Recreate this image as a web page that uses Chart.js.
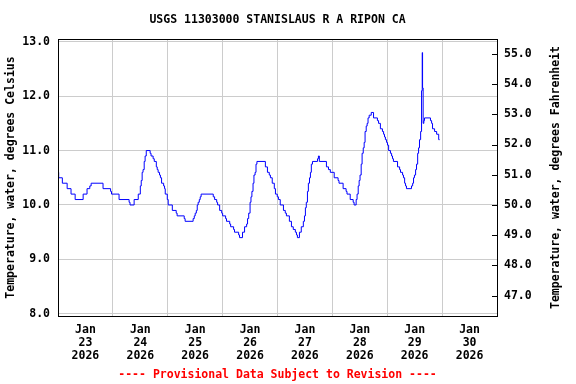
<!DOCTYPE html>
<html lang="en">
<head>
    <meta charset="UTF-8">
    <title>USGS 11303000 STANISLAUS R A RIPON CA</title>
    <script src="https://cdn.jsdelivr.net/npm/chart.js"></script>
    <style>
        html, body { margin: 0; padding: 0; background: #fff; }
        #chart { display: block; }
    </style>
</head>
<body>
    <canvas id="chart" width="576" height="384"></canvas>

    <script>
        // hours since Jan 23 2026 00:00, value starts at that time
        const hours = [
            0, 0.3, 1.9, 4.0, 5.7, 7.5, 11.0, 12.7, 13.9, 14.5, 19.7, 23.0, 23.4, 26.7, 31.1, 31.5, 33.3, 35.1,
            36.0, 36.4, 36.8, 37.2, 37.7, 38.1, 38.6, 40.3, 40.7, 41.6, 42.1, 43.0, 43.4, 43.8, 44.4, 44.8,
            45.3, 46.2, 46.6, 46.9, 47.8, 48.2, 50.0, 51.7, 52.1, 55.2, 55.6, 59.1, 59.6, 60.0, 60.5, 60.9,
            61.3, 61.8, 62.2, 62.6, 67.9, 68.5, 69.4, 69.8, 70.7, 71.6, 72.0, 73.3, 73.7, 75.1, 75.5, 76.8,
            77.2, 79.0, 79.4, 80.7, 81.6, 82.5, 82.9, 83.4, 84.0, 84.4, 84.8, 85.3, 85.7, 86.2, 86.6, 87.0,
            90.7, 91.6, 92.4, 92.9, 93.7, 94.6, 95.1, 95.9, 96.4, 97.2, 98.6, 99.4, 99.9, 101.2, 102.1, 102.9,
            103.8, 104.3, 104.7, 105.6, 106.4, 107.3, 107.8, 108.2, 108.6, 109.1, 109.5, 110.0, 110.4, 110.8,
            111.3, 113.5, 113.9, 114.3, 117.4, 118.3, 119.1, 120.8, 122.5, 122.9, 124.7, 126.0, 126.4, 127.8,
            129.1, 129.5, 130.4, 130.8, 131.3, 131.7, 132.1, 132.6, 133.0, 133.5, 133.9, 134.3, 134.8, 135.2,
            135.6, 136.1, 137.0, 138.0, 139.7, 140.2, 141.0, 141.9, 142.4, 142.8, 143.2, 143.7, 144.1, 144.6,
            145.4, 145.9, 146.3, 146.7, 148.5, 149.4, 149.8, 150.7, 151.1, 151.6, 152.0, 152.4, 154.6, 155.1,
            155.5, 155.9, 156.4, 156.8, 157.3, 157.7, 158.1, 158.6, 159.0, 159.3, 159.45, 159.7, 160.0, 160.3,
            162.9, 163.4, 163.8, 164.7, 165.6, 166.5, 166.9
        ];
        const tempC = [
            10.6, 10.5, 10.4, 10.3, 10.2, 10.1, 10.2, 10.3, 10.35, 10.4, 10.3, 10.25, 10.2, 10.1, 10.05, 10.0, 10.1, 10.2,
            10.35, 10.45, 10.6, 10.65, 10.8, 10.9, 11.0, 10.95, 10.9, 10.85, 10.8, 10.7, 10.65, 10.6, 10.55, 10.5,
            10.4, 10.35, 10.3, 10.2, 10.1, 10.0, 9.9, 9.85, 9.8, 9.75, 9.7, 9.75, 9.8, 9.85, 9.9, 10.0,
            10.05, 10.1, 10.15, 10.2, 10.15, 10.1, 10.05, 10.0, 9.9, 9.85, 9.8, 9.75, 9.7, 9.65, 9.6, 9.55,
            9.5, 9.45, 9.4, 9.5, 9.6, 9.65, 9.75, 9.85, 10.05, 10.15, 10.25, 10.4, 10.55, 10.6, 10.75, 10.8,
            10.7, 10.6, 10.55, 10.5, 10.4, 10.3, 10.2, 10.15, 10.1, 10.0, 9.9, 9.85, 9.8, 9.7, 9.6, 9.55,
            9.5, 9.45, 9.4, 9.5, 9.6, 9.7, 9.8, 9.95, 10.05, 10.25, 10.4, 10.5, 10.6, 10.75,
            10.8, 10.85, 10.9, 10.8, 10.7, 10.65, 10.6, 10.5, 10.45, 10.4, 10.3, 10.25, 10.2, 10.1,
            10.05, 10.0, 10.1, 10.2, 10.35, 10.45, 10.55, 10.75, 10.95, 11.05, 11.15, 11.35, 11.45, 11.5,
            11.6, 11.65, 11.7, 11.6, 11.55, 11.5, 11.4, 11.35, 11.3, 11.25, 11.2, 11.15, 11.1, 11.0,
            10.95, 10.9, 10.85, 10.8, 10.7, 10.65, 10.6, 10.55, 10.5, 10.4, 10.35, 10.3, 10.35, 10.4,
            10.5, 10.55, 10.65, 10.75, 10.95, 11.05, 11.2, 11.35, 12.1, 12.8, 12.15, 11.5, 11.55, 11.6,
            11.55, 11.5, 11.4, 11.35, 11.3, 11.2, 11.2
        ];
        const dayLabels = ['23', '24', '25', '26', '27', '28', '29', '30'];
        const cRange = [7.96, 13.05];

        const titleText = 'USGS 11303000 STANISLAUS R A RIPON CA';
        const footText = '---- Provisional Data Subject to Revision ----';
        const rightTitle = 'Temperature, water, degrees Fahrenheit';

        const monoBold = { family: 'DejaVu Sans Mono', size: 11.5, weight: 'bold', lineHeight: 1.1 };
        const fontStr = 'bold 11.5px "DejaVu Sans Mono"';
        Chart.defaults.color = '#000';

        // frame, inward ticks on the Fahrenheit side, and the texts centred on the plot
        const framePlugin = {
            id: 'frame',
            afterDraw(chart) {
                const { ctx, chartArea: a } = chart;
                const yF = chart.scales.yF;
                const cx = (a.left + a.right) / 2;
                const cy = (a.top + a.bottom) / 2;
                ctx.save();
                ctx.strokeStyle = '#000';
                ctx.lineWidth = 1;
                ctx.beginPath();
                yF.ticks.forEach(t => {
                    const py = Math.round(yF.getPixelForValue(t.value)) + 0.5;
                    ctx.moveTo(a.right - 5, py);
                    ctx.lineTo(a.right, py);
                });
                ctx.stroke();
                ctx.strokeRect(Math.round(a.left) + 0.5, Math.round(a.top) + 0.5,
                    Math.round(a.right - a.left), Math.round(a.bottom - a.top));

                ctx.font = fontStr;
                ctx.textAlign = 'center';
                ctx.textBaseline = 'middle';
                ctx.fillStyle = '#000';
                ctx.fillText(titleText, cx, 20);
                ctx.fillStyle = '#ff0000';
                ctx.fillText(footText, cx, 375);

                ctx.fillStyle = '#000';
                ctx.translate(556, cy);
                ctx.rotate(-Math.PI / 2);
                ctx.fillText(rightTitle, 0, 0);
                ctx.restore();
            }
        };

        new Chart(document.getElementById('chart'), {
            type: 'line',
            data: {
                datasets: [{
                    data: hours.map((h, i) => ({ x: h, y: tempC[i] })),
                    borderColor: '#0000ff',
                    borderWidth: 1,
                    pointRadius: 0,
                    stepped: true,
                    fill: false
                }]
            },
            options: {
                responsive: false,
                animation: false,
                devicePixelRatio: 1,
                layout: { padding: { top: 39, bottom: 0, left: 0, right: 0 } },
                plugins: {
                    legend: { display: false },
                    tooltip: { enabled: false },
                    title: { display: false }
                },
                scales: {
                    x: {
                        type: 'linear',
                        min: 0,
                        max: 192,
                        afterFit(scale) { scale.height = 68; },
                        border: { display: false },
                        grid: {
                            drawTicks: false,
                            color: ctx => (ctx.tick && ctx.tick.value % 24 === 0) ? '#cccccc' : 'rgba(0,0,0,0)'
                        },
                        ticks: {
                            stepSize: 12,
                            autoSkip: false,
                            maxRotation: 0,
                            padding: 8,
                            font: monoBold,
                            callback: v => v % 24 === 12 ? ['Jan', dayLabels[(v - 12) / 24], '2026'] : ''
                        }
                    },
                    y: {
                        position: 'left',
                        min: cRange[0],
                        max: cRange[1],
                        afterFit(scale) { scale.width = 58; },
                        border: { display: false },
                        grid: { drawTicks: false, color: '#cccccc' },
                        ticks: {
                            stepSize: 1,
                            includeBounds: false,
                            padding: 8,
                            font: monoBold,
                            callback: v => v.toFixed(1)
                        },
                        title: {
                            display: true,
                            text: 'Temperature, water, degrees Celsius',
                            font: monoBold,
                            padding: { top: 5, bottom: 0 }
                        }
                    },
                    yF: {
                        position: 'right',
                        min: cRange[0] * 9 / 5 + 32,
                        max: cRange[1] * 9 / 5 + 32,
                        afterFit(scale) { scale.width = 79; },
                        border: { display: false },
                        grid: { drawOnChartArea: false, drawTicks: false },
                        ticks: {
                            stepSize: 1,
                            includeBounds: false,
                            padding: 7,
                            font: monoBold,
                            callback: v => v.toFixed(1)
                        }
                    }
                }
            },
            plugins: [framePlugin]
        });
    </script>
</body>
</html>
